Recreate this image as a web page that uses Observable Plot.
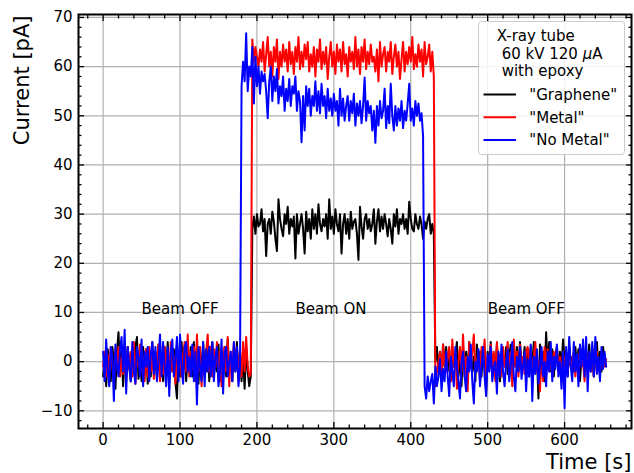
<!DOCTYPE html>
<html><head><meta charset="utf-8">
<script src="https://cdn.jsdelivr.net/npm/d3@7"></script>
<script src="https://cdn.jsdelivr.net/npm/@observablehq/plot@0.6"></script>
<style>
html,body{margin:0;padding:0;background:#fff;}
#chart{width:634px;height:473px;overflow:hidden;}
</style></head><body><div id="chart"></div>
<script>
// sampling interval of the recorded current (s)
const dt = 2;

const seriesNames = ["\"Graphene\"", "\"Metal\"", "\"No Metal\""];
const seriesColors = ["black", "red", "blue"];

// "Graphene" current [pA], one value every dt seconds from t = 0
const graphene = [
  -3, 1, -5, 2.5, -1, -4, 3, 0, -5.5, 2,
  6, -2, 2, -5, 1.5, -3, 3, -1, -4, 2,
  -2.5, 3, 5, -3.5, 1, -4, 3, -2, 2.5, -4.5,
  1, -3, 4, -2, 2, -3.5, 3.5, -1, 2, -4,
  3, -2, 4, -3, 1, -2, 2.5, -4, -7.5, 2,
  -3, 4, -2, 3, -4, 1.5, -1, 3, -3, 4,
  -2, 3, -4.5, 2, -3, 4, -1, -2, 3, -4,
  2, 4, -3, 1, -2, 3.5, -4, 2, -1, 3,
  -3, 4.5, -2, 1, -4, 3, -2, 4, -3.5, 2,
  -4, 1, -5.5, 3, -2, -5, -3,
  27, 29.5, 26, 30, 27.5, 28, 31, 26.5, 29, 21.5,
  28, 29, 26, 30.5, 28.5, 25, 22.5, 33, 29, 27,
  25.5, 30, 28, 31.5, 26, 29, 27.5, 29.5, 21, 30,
  26, 28, 30, 27, 22, 30.5, 26.5, 29, 25, 31,
  27, 30, 26, 32, 28, 26.5, 29, 27.5, 30, 25,
  33, 27, 29.5, 26, 31, 28, 26.5, 30, 22, 28,
  30, 26, 29, 25, 30.5, 27, 28.5, 29, 26, 20.7,
  31.5, 27.5, 25, 29, 30, 27, 29, 26.5, 28, 31,
  24, 28.5, 31, 26.5, 29.5, 27, 30, 28, 25.5, 29,
  27, 24, 30, 27.5, 31, 26, 29, 28, 30, 27,
  29, 26, 32.5, 29, 27, 26.5, 30, 28, 27, 29.5,
  28, 25, 28.5, 27, 29, 30, 26, 28, 26,
  0, 3, -2, 2, -3, 3.5, -1, 3, -2, 2.5,
  -4, 3, -1, 1, 4, -3, 1, -5, 3, -1.5,
  2, -3, 4, -1, -2, 1, -4, 3.5, -1, 2,
  -3, 3, 0, -6, 2, -1, 4, -3, 1.5, -2,
  3.5, -1, -4, 2, 1, -1, 3, -2.5, 1, 3.5,
  -3, 2, -1, 3, -2, 4, 0, -1, 3, -2,
  2.5, -3, 3, -1, 4, -2, 1, -7.5, 3.5, -1,
  2, -4, 6, -1, 4, -2, 2.5, -3, 1, 3,
  -2, 2, -1, 4.5, 0, 2, -3, 3, -1, 1,
  -2, 3, -1, 2.5, -4, 1, 3, -2, 2, -1,
  3.5, -2, 1, -3, 2, 4, -1, 2, -2, 3,
  0, -1
];

// "Metal" current [pA]
const metal = [
  -1, 2, -3, 1.5, -2, 3, -1, -4, 2.5, -1,
  3, -3, 1, -2.5, 2, -4, 3, -1.5, 2, -3,
  4, -4.5, 2, -1, 3.5, -2, 1, -4, 2.5, -3,
  3, -2, 1.5, -3.5, 2, -1, 3.5, -4, 1, -2.5,
  3, -1, 2, -3, 4, -2, 1, -4.5, 3, -1,
  2, -3, 1, 4, -2, 5.5, -3, 2, -1.5, 3,
  -4, 5.5, -2, 3, -5, 1, -3, 2, 5.5, -2,
  3, -3, 2.5, -1, 4, -4, 2, -5, 1, 3,
  -2, 5, -5, 2, -3, 4, -1, 3, -4, 2,
  -3, 4, -2, 5, -1, -3, -2.5,
  65.5, 61, 64, 62, 60, 63.5, 61, 65, 59, 62.5,
  66, 60, 63, 58, 64, 61, 65.5, 57.5, 63, 60,
  64.5, 61, 63.5, 59, 65, 60.5, 63, 58.5, 64, 61,
  66, 59.5, 63, 60, 64.5, 61.5, 65, 59, 62.5, 60,
  64, 58, 63.5, 61, 65.5, 59.5, 63, 60.5, 64, 57.5,
  62, 65, 60, 63, 58.5, 64.5, 61, 63.5, 59, 65,
  60.5, 62.5, 58, 64, 61, 63, 59.5, 66, 60, 63.5,
  58.5, 64, 61, 65.5, 59.5, 63, 60.5, 64.5, 61, 62,
  59, 63.5, 57, 65, 60, 62.5, 64, 59, 63, 61,
  65, 58.5, 62, 64.5, 60, 63, 57.5, 61.5, 65, 59,
  63, 60.5, 64, 61, 66, 59.5, 62.5, 60, 64.5, 61,
  63.5, 58, 65, 60.5, 62, 64.5, 59, 63, 58,
  -5, -2, 0, 2, -3, 3.5, -1, -2, 1, 3,
  -4, 4.5, -1, 2, -5.5, 0, 3, -2, 5.5, -3,
  1, -6, 4, -1, 2, 5.5, -2, 0, 2, -4,
  3, 0, 4.5, -3, 1, -2, 3.5, -1, 2, -4,
  4, -2, 1.5, -3, 3, -1, 0, 4, -2.5, 2,
  -5, 4.5, -1, 2, -3, 3.5, -1, 1, -2.5, 2,
  3, -1, 2.5, -3, 1, 4, -2, 0, -6, 2,
  -4, 3, -1, 2.5, -2, 1, -3, 2, -1, 3,
  -2, 1, -3.5, 2, -1, 1.5, -2, 2.5, -1, 0.5,
  2, -3, 1, -2, 3, -1, 0, -4, 2, -1,
  1, -2, 3, -3, 0.5, 2, -1, -2.5, 1.5, 0,
  -1, 0.5
];

// "No Metal" current [pA]
const noMetal = [
  2, -4, 4.5, -2, -5, 3, 1, -8, 3.5, -1,
  -3, 2.5, 5, -2, 6.5, -6.5, 3, -1, -4, 4,
  -2, -4.5, 3, 1, -3, 4.5, -5, 2, -1, 3,
  -4, 1.5, 4, -2.5, 3, -4, 0, 5.5, -3, 4,
  -1, -5, 3, -7, 2, 4.5, -3, 0.5, 5, -4,
  5.5, -1, -4.5, 3, 4, -2, 1, -3, 3.5, -4,
  2, -8.7, 3, -1, -4, 4, -5, 2.5, -2, 3,
  -3, 4, -4, 1, 3, -5, -2, 4.5, -6.5, 2,
  3, -3, 0, 2, -4, 4, -2, 3, -5, -1,
  56, 61, 57, 66.8, 55, 60, 58, 64, 52.5, 62,
  56, 60, 54.5, 59, 57, 58.5, 55, 49.5, 57, 60,
  53, 58, 55, 59.5, 52.5, 56, 54, 58, 51, 55.5,
  53, 57.5, 52, 56, 54.5, 58, 51, 55, 53, 44.6,
  54, 47, 56, 52, 55.5, 50, 54, 52, 57, 51,
  55, 50.5, 56.5, 52, 54, 49.5, 55.5, 51, 53.5, 50,
  54.5, 51, 53, 48, 55.5, 50, 53.5, 49, 52, 54,
  49, 53, 50.5, 54.5, 48, 52.5, 50, 53, 48.5, 52,
  57.8, 49, 53, 50.5, 52, 47, 51, 44.5, 52, 48,
  53, 49.5, 51, 55.5, 47.5, 52, 48.5, 56.5, 50, 47,
  52, 48, 51.5, 49, 53, 47.5, 51, 49, 52.5, 56.5,
  49, 51.5, 48, 53, 50, 52.5, 49, 50.5, 46,
  -5, -7.5, -3, -6, -4, -2.5, -8.5, -1, -5, -3,
  0.5, -6, -1.5, -4, 2, -3, -7, 1, -2, -5,
  3, -1, -4, -7.5, 0, 2, -3, -6, 1, -2,
  3.5, -4, -8.5, 0, -2, 2.5, -5, -1, 3, -3,
  -7, 1.5, -2, 3, -4, -1, 0, -6.5, 2, -3,
  3.5, -2, -5, 0, 2.5, -4, -1, 4, -3, -6,
  1, -2, 3, -3.5, -1, 2, -6, 0.5, -3, 3.5,
  -8, 1, -2.5, 2.5, -4.5, -1, 3, -3, 0, -5,
  2, -2, 4, -4, 1, -1.5, 3.5, -3, 0, -5.5,
  2, -9.5, 3, -3, 5, -1, -4, 4, -2, 1.5,
  -5, 3.5, -1, 4.5, -3, 5, -6, 2, -2, 4,
  -3, 5, -2.5, 1, -4, 3, -1.5, 2, -1
];

const xTicks = [0, 100, 200, 300, 400, 500, 600];
const xMinor = [-20, 20, 40, 60, 80, 120, 140, 160, 180, 220, 240, 260, 280, 320, 340, 360, 380,
  420, 440, 460, 480, 520, 540, 560, 580, 620, 640, 660, 680];
const yTicks = [-10, 0, 10, 20, 30, 40, 50, 60, 70];
const yMinor = [-12, -8, -6, -4, -2, 2, 4, 6, 8, 12, 14, 16, 18, 22, 24, 26, 28, 32, 34, 36, 38,
  42, 44, 46, 48, 52, 54, 56, 58, 62, 64, 66, 68];

const annotations = [
  {t: 50, v: 10, label: "Beam OFF"},
  {t: 250, v: 10, label: "Beam ON"},
  {t: 500, v: 10, label: "Beam OFF"}
];
const xLabel = "Time [s]";
const yLabel = "Current [pA]";
const legendTitle = ["X-ray tube", "60 kV 120 ", "with epoxy"];

// long-format table for Plot
const seriesValues = [graphene, metal, noMetal];
const rows = [];
seriesValues.forEach((vals, k) => vals.forEach((v, i) => rows.push({t: i * dt, v, s: seriesNames[k]})));

const font = "DejaVu Sans, sans-serif";
const tickStroke = {stroke: "black", strokeWidth: 1.3};

const lineMarks = seriesNames.map((name, k) =>
  Plot.lineY(rows.filter(d => d.s === name), {x: "t", y: "v", stroke: seriesColors[k], strokeWidth: 2})
);

const chart = Plot.plot({
  width: 634, height: 473,
  marginLeft: 78, marginRight: 3, marginTop: 14, marginBottom: 45,
  x: {domain: [-32, 687]},
  y: {domain: [-13.6, 70.6]},
  style: {fontFamily: font, fontSize: "15px", background: "white", color: "black"},
  marks: [
    Plot.gridX(xTicks, {stroke: "#b0b0b0", strokeOpacity: 1, strokeWidth: 1.2}),
    Plot.gridY(yTicks, {stroke: "#b0b0b0", strokeOpacity: 1, strokeWidth: 1.2}),
    ...lineMarks,
    Plot.text(annotations, {x: "t", y: "v", text: "label", textAnchor: "start", fontSize: 15, dy: -3.4, fill: "black"}),
    // inward ticks, all four sides
    Plot.axisX(xMinor, {anchor: "bottom", tickSize: -3.5, text: null, label: null, ...tickStroke}),
    Plot.axisX(xMinor, {anchor: "top", tickSize: -3.5, text: null, label: null, ...tickStroke}),
    Plot.axisX(xTicks, {anchor: "bottom", tickSize: -6, text: null, label: null, ...tickStroke}),
    Plot.axisX(xTicks, {anchor: "top", tickSize: -6, text: null, label: null, ...tickStroke}),
    Plot.axisY(yMinor, {anchor: "left", tickSize: -3.5, text: null, label: null, ...tickStroke}),
    Plot.axisY(yMinor, {anchor: "right", tickSize: -3.5, text: null, label: null, ...tickStroke}),
    Plot.axisY(yTicks, {anchor: "left", tickSize: -6, text: null, label: null, ...tickStroke}),
    Plot.axisY(yTicks, {anchor: "right", tickSize: -6, text: null, label: null, ...tickStroke}),
    // tick labels
    Plot.axisX(xTicks, {anchor: "bottom", tickSize: 0, tickPadding: 6, label: null, fontSize: 15}),
    Plot.axisY(yTicks, {anchor: "left", tickSize: 0, tickPadding: 6, label: null, fontSize: 15}),
    Plot.frame({stroke: "black", strokeWidth: 2}),
    Plot.text([xLabel], {frameAnchor: "bottom-right", textAnchor: "end", dy: 40.5, fontSize: 21, fill: "black"}),
    Plot.text([yLabel], {frameAnchor: "top-left", textAnchor: "end", rotate: -90, dx: -64.5, dy: 1, fontSize: 21, fill: "black"})
  ]
});

document.getElementById("chart").appendChild(chart);

// legend (matplotlib style, upper right inside axes)
const svg = d3.select(chart);
const lg = svg.append("g").attr("font-family", font).attr("font-size", 15)
  .attr("text-anchor", "start").style("text-anchor", "start");
lg.append("rect").attr("x", 478.5).attr("y", 21.5).attr("width", 146).attr("height", 133).attr("rx", 3).attr("ry", 3)
  .style("fill", "#ffffff").style("fill-opacity", 0.85).style("stroke", "#cccccc").style("stroke-width", 1);
const titleX = [496.7, 501.7, 501.7];
const titleY = [41, 58.5, 76];
legendTitle.forEach((t, i) => {
  const txt = lg.append("text").attr("x", titleX[i]).attr("y", titleY[i]).style("fill", "black").text(t);
  if (i === 1) { txt.append("tspan").attr("font-style", "italic").text("\u03bc"); txt.append("tspan").text("A"); }
});
seriesNames.forEach((name, k) => {
  const yy = 94.5 + k * 22.8;
  lg.append("line").attr("x1", 483.5).attr("x2", 516).attr("y1", yy).attr("y2", yy)
    .style("stroke", seriesColors[k]).style("stroke-width", 2);
  lg.append("text").attr("x", 529.3).attr("y", yy + 5.3).style("fill", "black").text(name);
});
</script>
</body></html>
